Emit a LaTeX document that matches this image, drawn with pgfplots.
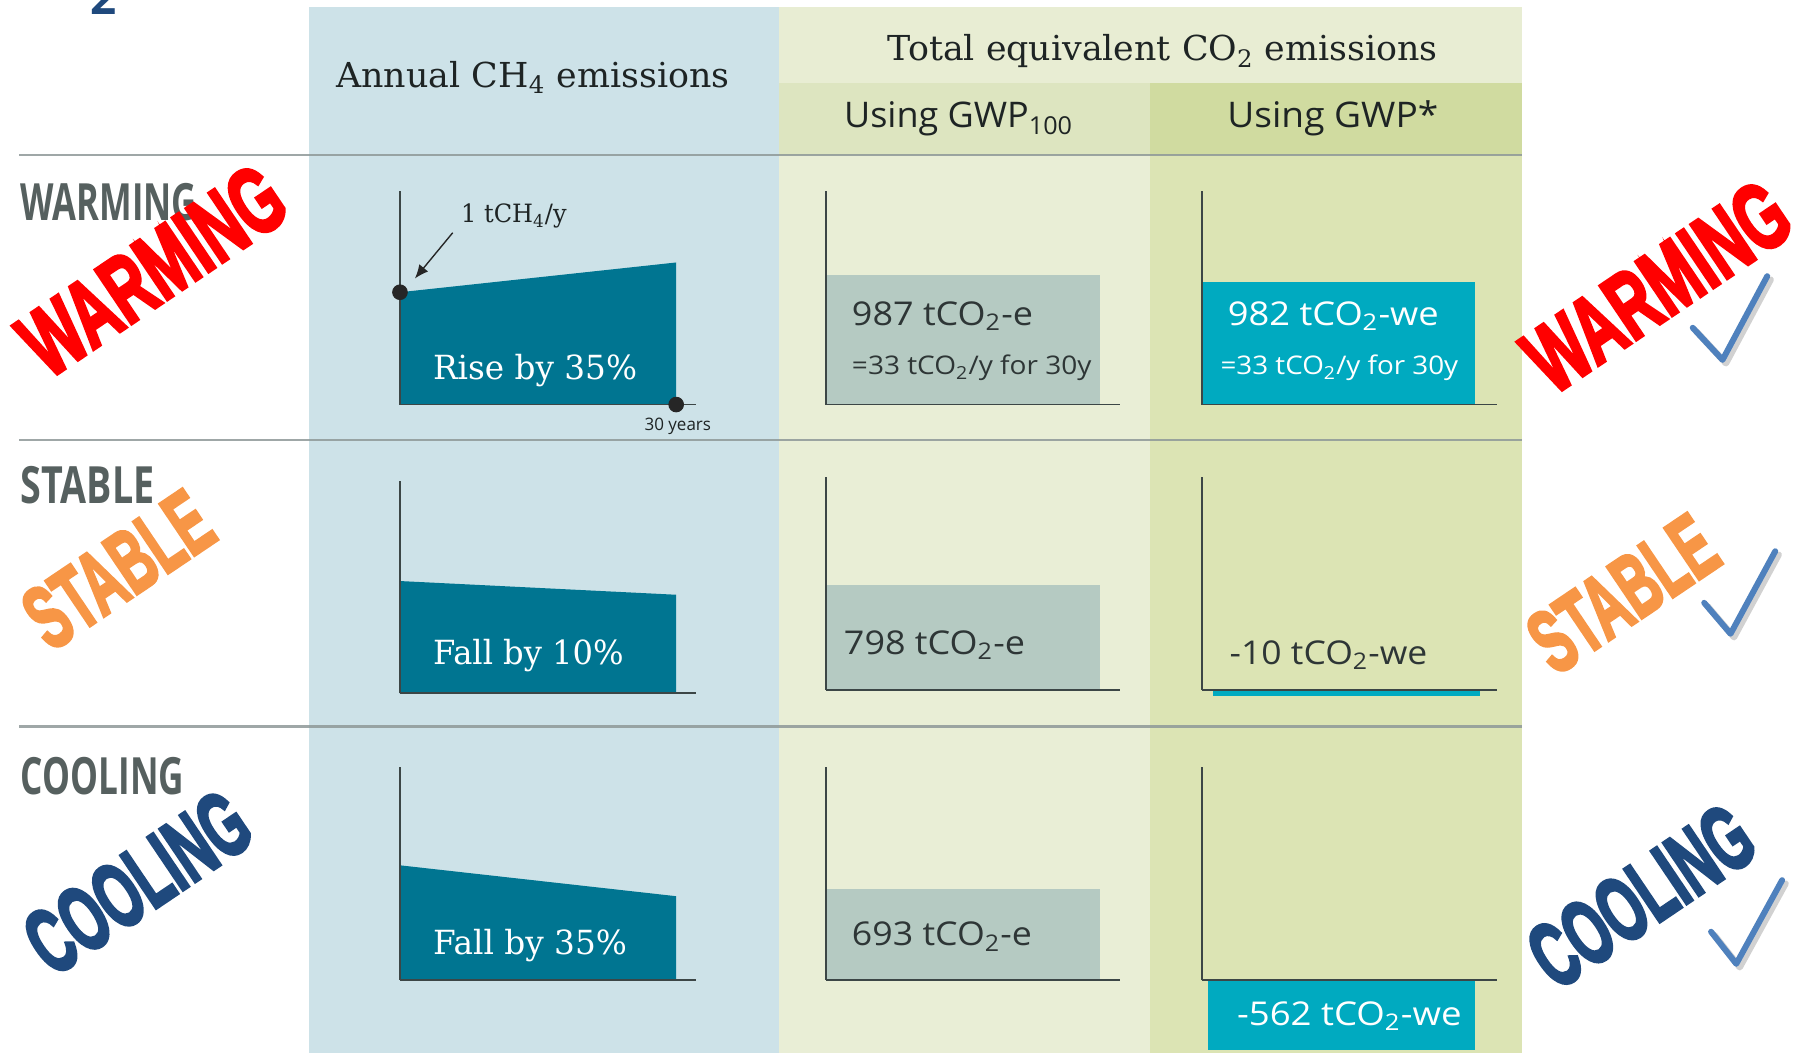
\documentclass[border=0pt]{standalone}
\usepackage{fontspec}
\usepackage{graphicx}
\usepackage{pgfplots}
\pgfplotsset{compat=1.18}
\usetikzlibrary{arrows.meta}
\setmainfont{DejaVu Serif}
\newfontfamily\slab{DejaVu Serif}
\newfontfamily\osans{Open Sans}
\newfontfamily\stamp{Liberation Sans}[UprightFont={* Bold},FakeBold=4]

\definecolor{bluebg}{HTML}{CDE2E8}
\definecolor{grnA}{HTML}{E9EED6}
\definecolor{grnAhd}{HTML}{DDE5C0}
\definecolor{grnTop}{HTML}{E8EDD3}
\definecolor{grnB}{HTML}{DCE4B4}
\definecolor{grnBhd}{HTML}{D0DBA0}
\definecolor{ch4teal}{HTML}{007591}
\definecolor{barA}{HTML}{B5CAC2}
\definecolor{barB}{HTML}{00AAC0}
\definecolor{axiscol}{HTML}{3C4646}
\definecolor{sepcol}{HTML}{8E9898}
\definecolor{lblgray}{HTML}{56605F}
\definecolor{hdtext}{HTML}{1E2424}
\definecolor{valtext}{HTML}{2E3636}
\definecolor{stampred}{HTML}{FF0000}
\definecolor{stamporange}{HTML}{F79646}
\definecolor{stampnavy}{HTML}{1F497D}
\definecolor{checkblue}{HTML}{4F81BD}

% squeeze a label to a given width, keep its height
\newcommand\fitw[2]{\resizebox{#1}{\height}{#2}}

\pgfplotsset{
  panel/.style={scale only axis, anchor=south west, xmin=0, ymin=0,
    axis x line=bottom, axis y line=left,
    axis line style={-, draw=axiscol, line width=0.8pt},
    every outer x axis line/.append style={-},
    every outer y axis line/.append style={-},
    xtick=\empty, ytick=\empty, clip=false, axis on top},
  ch4/.style={panel, x=4.0167pt, y=49pt, xmax=32.1},
  gwpA/.style={panel, x=119.5pt, y=0.05725pt, xmax=1.071, ymax=1624},
  gwpB/.style={panel, x=119pt, y=0.0545pt, xmax=1.08, ymax=1706},
}

\begin{document}
\begin{tikzpicture}[x=0.5pt, y=-0.5pt,
  every node/.style={inner sep=0pt},
  val/.style={anchor=base west}]
\useasboundingbox (0,0) rectangle (1568,919);

% column backgrounds
\fill[bluebg] (270,6) rectangle (680,919);
\fill[grnA] (680,72) rectangle (1003,919);
\fill[grnB] (1003,72) rectangle (1328,919);
\fill[grnTop] (680,6) rectangle (1328,72);
\fill[grnAhd] (680,72) rectangle (1003,135);
\fill[grnBhd] (1003,72) rectangle (1328,135);

% row separators
\foreach \yy in {135,384,634}
  \draw[sepcol, opacity=0.85, line width=1pt] (17,\yy) -- (1328,\yy);

% headers
\node[anchor=base, font=\slab\fontsize{15}{18}\selectfont, text=hdtext] at (465,76)
  {\fitw{171.5pt}{Annual CH\textsubscript{4} emissions}};
\node[anchor=base, font=\slab\fontsize{15}{18}\selectfont, text=hdtext] at (1014.5,53)
  {\fitw{240pt}{Total equivalent CO\textsubscript{2} emissions}};
\node[anchor=base, font=\osans\fontsize{15.4}{18}\selectfont, text=hdtext] at (836.5,111.4)
  {\fitw{100pt}{Using GWP\textsubscript{100}}};
\node[anchor=base, font=\osans\fontsize{15.4}{18}\selectfont, text=hdtext] at (1163,111.4)
  {\fitw{92pt}{Using GWP*}};

% stray figure number at top left
\node[anchor=base, font=\osans\bfseries\fontsize{20}{20}\selectfont, text=stampnavy] at (90.5,13) {2};

% row labels
\node[val, font=\osans\bfseries\fontsize{22.4}{24}\selectfont, text=lblgray] at (17.8,192) {\fitw{76.8pt}{WARMING}};
\node[val, font=\osans\bfseries\fontsize{22.4}{24}\selectfont, text=lblgray] at (17.8,439) {\fitw{58.3pt}{STABLE}};
\node[val, font=\osans\bfseries\fontsize{22.4}{24}\selectfont, text=lblgray] at (17.8,693) {\fitw{71.2pt}{COOLING}};

% panel origins
\coordinate (c11) at (349,353);
\coordinate (c21) at (349,605);
\coordinate (c31) at (349,855);
\coordinate (c12) at (721,353);
\coordinate (c22) at (721,602);
\coordinate (c32) at (721,855);
\coordinate (c13) at (1049,353);
\coordinate (c23) at (1049,602);
\coordinate (c33) at (1049,855);

% annual CH4 emissions over 30 years (left value = 1 t/y)
\begin{axis}[ch4, ymax=1.898, at={(c11)}]
\addplot[fill=ch4teal, draw=none] coordinates {(0,1) (30,1.265)} \closedcycle;
\addplot[only marks, mark=*, mark size=3.2pt, color=black!85] coordinates {(0,1) (30,0)};
\draw[-{Latex[length=6pt,width=5pt]}, line width=0.6pt, black!85]
  (axis cs:5.73,1.53) -- (axis cs:1.62,1.122);
\end{axis}
\begin{axis}[ch4, ymax=1.888, at={(c21)}]
\addplot[fill=ch4teal, draw=none] coordinates {(0,1) (30,0.878)} \closedcycle;
\end{axis}
\begin{axis}[ch4, ymax=1.898, at={(c31)}]
\addplot[fill=ch4teal, draw=none] coordinates {(0,1.02) (30,0.745)} \closedcycle;
\end{axis}

% GWP100 totals
\begin{axis}[gwpA, at={(c12)}]
\addplot[fill=barA, draw=none] coordinates {(0,987) (1,987)} \closedcycle;
\end{axis}
\begin{axis}[gwpA, at={(c22)}]
\addplot[fill=barA, draw=none] coordinates {(0,798) (1,798)} \closedcycle;
\end{axis}
\begin{axis}[gwpA, at={(c32)}]
\addplot[fill=barA, draw=none] coordinates {(0,693) (1,693)} \closedcycle;
\end{axis}

% GWP* totals
\begin{axis}[gwpB, at={(c13)}]
\addplot[fill=barB, draw=none] coordinates {(0,982) (1,982)} \closedcycle;
\end{axis}
\begin{axis}[gwpB, axis on top=false, at={(c23)}]
\addplot[fill=barB, draw=barB, line width=1.6pt, yshift=-1.4pt] coordinates {(0.045,-10) (1.01,-10)} \closedcycle;
\end{axis}
\begin{axis}[gwpB, at={(c33)}]
\addplot[fill=barB, draw=none] coordinates {(0.021,-562) (1.0,-562)} \closedcycle;
\end{axis}

% CH4 panel labels
\node[val, font=\slab\fontsize{11}{12}\selectfont, text=hdtext] at (402,194.3)
  {\fitw{46pt}{1 tCH\textsubscript{4}/y}};
\node[val, font=\osans\fontsize{7.5}{8}\selectfont, text=hdtext] at (562,376)
  {\fitw{29pt}{30 years}};
\node[val, font=\slab\fontsize{14.5}{16}\selectfont, text=white] at (377.5,331)
  {\fitw{89pt}{Rise by 35\%}};
\node[val, font=\slab\fontsize{14.5}{16}\selectfont, text=white] at (377.5,579.7)
  {\fitw{83.2pt}{Fall by 10\%}};
\node[val, font=\slab\fontsize{14.5}{16}\selectfont, text=white] at (377.5,833)
  {\fitw{84.6pt}{Fall by 35\%}};

% value labels
\node[val, font=\osans\fontsize{14.3}{16}\selectfont, text=valtext] at (743,283.6)
  {\fitw{79pt}{987 tCO\textsubscript{2}-e}};
\node[val, font=\osans\fontsize{11.2}{13}\selectfont, text=valtext] at (743,327)
  {\fitw{104.5pt}{=33 tCO\textsubscript{2}/y for 30y}};
\node[val, font=\osans\fontsize{14.3}{16}\selectfont, text=white] at (1071,283.6)
  {\fitw{92pt}{982 tCO\textsubscript{2}-we}};
\node[val, font=\osans\fontsize{11.2}{13}\selectfont, text=white] at (1064.6,327)
  {\fitw{103.7pt}{=33 tCO\textsubscript{2}/y for 30y}};
\node[val, font=\osans\fontsize{14.3}{16}\selectfont, text=valtext] at (736,571)
  {\fitw{79pt}{798 tCO\textsubscript{2}-e}};
\node[val, font=\osans\fontsize{14.3}{16}\selectfont, text=valtext] at (1072.6,579.6)
  {\fitw{86.2pt}{-10 tCO\textsubscript{2}-we}};
\node[val, font=\osans\fontsize{14.3}{16}\selectfont, text=valtext] at (743,825.4)
  {\fitw{78.5pt}{693 tCO\textsubscript{2}-e}};
\node[val, font=\osans\fontsize{14.3}{16}\selectfont, text=white] at (1079,894.6)
  {\fitw{98pt}{-562 tCO\textsubscript{2}-we}};

% stamps
\node[rotate=34, text=stampred, font=\stamp\fontsize{41}{41}\selectfont] at (133,236) {\fitw{129pt}{WARMING}};
\node[rotate=34, text=stampred, font=\stamp\fontsize{41}{41}\selectfont] at (1446,250) {\fitw{129pt}{WARMING}};
\node[rotate=34, text=stamporange, font=\stamp\fontsize{39}{39}\selectfont] at (103,497) {\fitw{89pt}{STABLE}};
\node[rotate=34, text=stamporange, font=\stamp\fontsize{39}{39}\selectfont] at (1416,518) {\fitw{89pt}{STABLE}};
\node[rotate=34, text=stampnavy, font=\stamp\fontsize{40}{40}\selectfont] at (120,770) {\fitw{108pt}{COOLING}};
\node[rotate=34, text=stampnavy, font=\stamp\fontsize{40}{40}\selectfont] at (1432,782) {\fitw{108pt}{COOLING}};

% check marks
\foreach \a/\b/\c in {{1477,286}/{1503,314}/{1542,241}, {1487,526}/{1510,553}/{1549,481}, {1493,813}/{1515,841}/{1555,768}} {
  \draw[black, opacity=0.18, line width=2.8pt, line cap=round, line join=round, shift={(3,3)}] (\a) -- (\b) -- (\c);
  \draw[checkblue, line width=2.6pt, line cap=round, line join=round] (\a) -- (\b) -- (\c);
}
\end{tikzpicture}
\end{document}
